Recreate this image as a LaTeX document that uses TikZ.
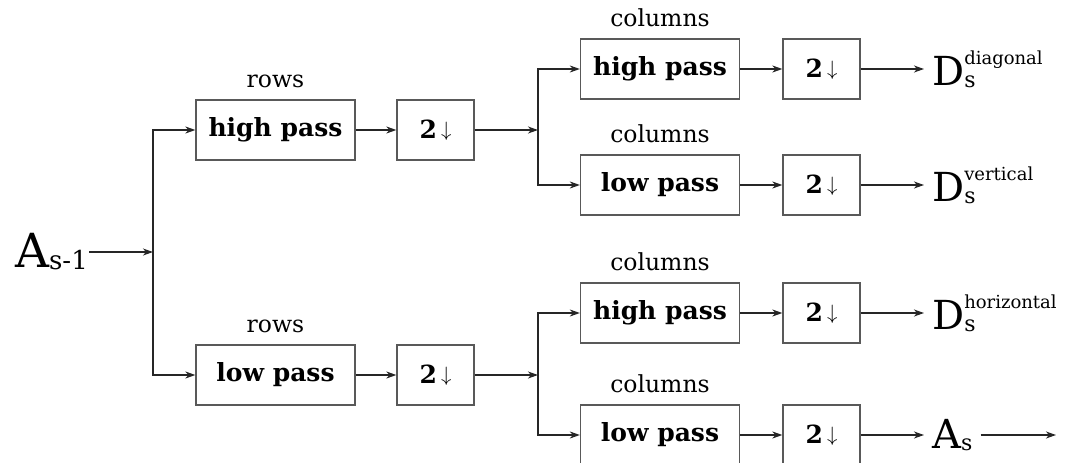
\documentclass[tikz,border=0pt]{standalone}
\usepackage{fontspec}
\setmainfont{DejaVu Serif}
\usetikzlibrary{arrows.meta}
\newcommand\twodown{2\,\raisebox{2.5pt}{\fontsize{20}{20}\selectfont$\downarrow$}}
\newcommand\outlab[2]{{\fontsize{40}{40}\selectfont #1}\rlap{\raisebox{21pt}{\fontsize{18}{18}\selectfont #2}}\raisebox{-2pt}{\fontsize{22}{22}\selectfont s}}
\begin{document}
\begin{tikzpicture}[x=1pt,y=-1pt,
  conn/.style={line width=1.3pt, draw=black!85, -{Stealth[length=10pt,width=7pt,inset=3pt]}},
  filt/.style={draw=black!65, line width=1.3pt, minimum width=159pt, minimum height=60pt, inner sep=0pt, font=\fontsize{25}{25}\selectfont\bfseries},
  down/.style={filt, minimum width=77pt},
  lab/.style={font=\fontsize{23.5}{23.5}\selectfont, anchor=base, inner sep=0pt},
  outlabel/.style={anchor=base west, inner ysep=0pt, inner xsep=8pt},
]
\useasboundingbox (0,0) rectangle (1066,463);

% input
\node[anchor=base east, inner sep=1pt] (Am1) at (89,267)
  {{\fontsize{47}{47}\selectfont A}\raisebox{-2pt}{\fontsize{26}{26}\selectfont s-1}};

% row filters
\node[filt] (hr) at (275.5,130) {high pass};
\node[down] (dr1) at (435.5,130) {\twodown};
\node[filt] (lr) at (275.5,375) {low pass};
\node[down] (dr2) at (435.5,375) {\twodown};
\node[lab] (rows1) at (275.5,87) {rows};
\node[lab] (rows2) at (275.5,332) {rows};

% column filters
\node[filt] (hh) at (660,69) {high pass};
\node[down] (d1) at (821.5,69) {\twodown};
\node[filt] (hl) at (660,185) {low pass};
\node[down] (d2) at (821.5,185) {\twodown};
\node[filt] (lh) at (660,313) {high pass};
\node[down] (d3) at (821.5,313) {\twodown};
\node[filt] (ll) at (660,435) {low pass};
\node[down] (d4) at (821.5,435) {\twodown};
\node[lab] (c1) at (660,26) {columns};
\node[lab] (c2) at (660,142) {columns};
\node[lab] (c3) at (660,270) {columns};
\node[lab] (c4) at (660,392) {columns};

% outputs
\node[outlabel] (Dd) at (924,85) {\outlab{D}{diagonal}};
\node[outlabel] (Dv) at (924,201) {\outlab{D}{vertical}};
\node[outlabel] (Dh) at (924,329) {\outlab{D}{horizontal}};
\node[outlabel] (As) at (924,448) {{\fontsize{40}{40}\selectfont A}\raisebox{-2pt}{\fontsize{22}{22}\selectfont s}};
\coordinate (end) at (1056,435);

% split points
\coordinate (s0) at (153,252);
\coordinate (s1) at (538,130);
\coordinate (s2) at (538,375);

% connectors
\draw[conn] (Am1.east |- s0) -- (s0);
\draw[conn] (s0) |- (hr.west);
\draw[conn] (s0) |- (lr.west);
\draw[conn] (hr) -- (dr1);
\draw[conn] (lr) -- (dr2);
\draw[conn] (dr1.east) -- (s1);
\draw[conn] (dr2.east) -- (s2);
\draw[conn] (s1) |- (hh.west);
\draw[conn] (s1) |- (hl.west);
\draw[conn] (s2) |- (lh.west);
\draw[conn] (s2) |- (ll.west);
\draw[conn] (hh) -- (d1);
\draw[conn] (hl) -- (d2);
\draw[conn] (lh) -- (d3);
\draw[conn] (ll) -- (d4);
\draw[conn] (d1.east) -- (Dd.west |- d1);
\draw[conn] (d2.east) -- (Dv.west |- d2);
\draw[conn] (d3.east) -- (Dh.west |- d3);
\draw[conn] (d4.east) -- (As.west |- d4);
\draw[conn] (As.east |- end) -- (end);
\end{tikzpicture}
\end{document}
